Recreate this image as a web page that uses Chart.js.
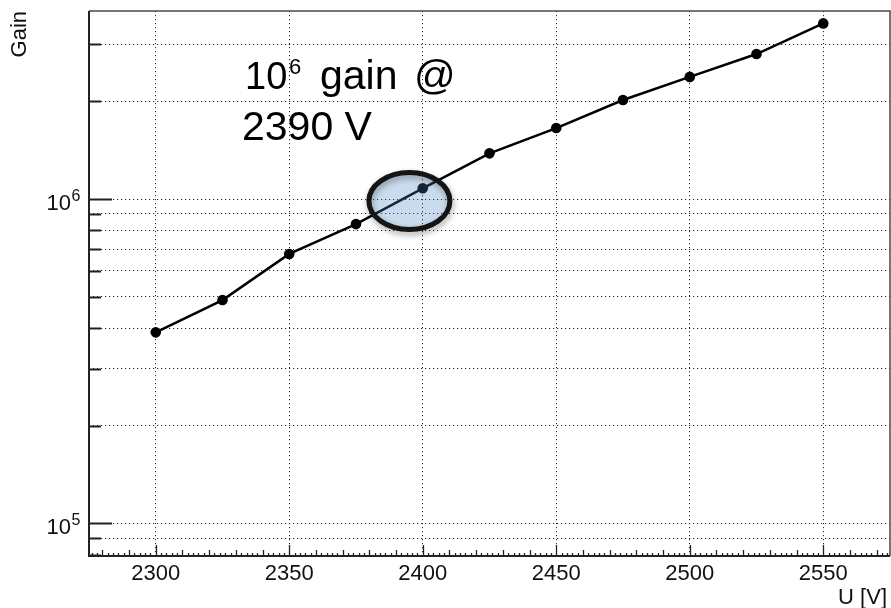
<!DOCTYPE html>
<html>
<head>
<meta charset="utf-8">
<title>Gain vs. U</title>
<script src="https://cdn.jsdelivr.net/npm/chart.js@4.4.0/dist/chart.umd.min.js"></script>
<style>
  html, body { margin: 0; padding: 0; background: #fff; }
  #wrap { width: 891px; height: 608px; position: relative; }
  canvas { display: block; }
</style>
</head>
<body>
<div id="wrap"><canvas id="gainChart" width="891" height="608"></canvas></div>
<script>
// Measured gain versus supply voltage
const voltages = [2300, 2325, 2350, 2375, 2400, 2425, 2450, 2475, 2500, 2525, 2550];
const gains = [3.88e5, 4.88e5, 6.77e5, 8.37e5, 1.079e6, 1.383e6, 1.655e6, 2.02e6, 2.38e6, 2.80e6, 3.48e6];

// Axis layout
const xTickValues = [2300, 2350, 2400, 2450, 2500, 2550];
const yGridValues = [9e4, 1e5, 2e5, 3e5, 4e5, 5e5, 6e5, 7e5, 8e5, 9e5, 1e6, 2e6, 3e6];
const yTickValues = [8e4, 9e4, 1e5, 2e5, 3e5, 4e5, 5e5, 6e5, 7e5, 8e5, 9e5, 1e6, 2e6, 3e6];
const yLabelExponents = [5, 6];
const xRange = [2275, 2575];
const yRange = [7.93e4, 3.8e6];

// Working point marked on the curve
const workingPoint = { voltage: 2395, gain: 0.986e6 };
const noteLines = { base: '10', exponent: '6', rest: 'gain', at: '@', second: '2390 V' };

const FONT = '"Liberation Sans", Arial, Helvetica, sans-serif';

const framePlugin = {
  id: 'frame',
  afterDatasetsDraw(chart) {
    const { ctx, chartArea: a, scales: { x, y } } = chart;
    ctx.save();
    // frame
    ctx.strokeStyle = '#4a4a4a';
    ctx.lineWidth = 1.5;
    ctx.beginPath();
    ctx.moveTo(a.left, a.top); ctx.lineTo(a.right, a.top); ctx.lineTo(a.right, a.bottom);
    ctx.stroke();
    ctx.strokeStyle = '#222';
    ctx.lineWidth = 2;
    ctx.beginPath();
    ctx.moveTo(a.left, a.top); ctx.lineTo(a.left, a.bottom); ctx.lineTo(a.right, a.bottom);
    ctx.stroke();

    // x ticks pointing inward: 50 V, 10 V and 2 V
    ctx.lineWidth = 1.3;
    ctx.beginPath();
    for (let v = Math.ceil(xRange[0] / 2) * 2; v <= xRange[1]; v += 2) {
      const px = Math.round(x.getPixelForValue(v)) + 0.5;
      const len = v % 50 === 0 ? 11 : (v % 10 === 0 ? 6 : 3);
      ctx.moveTo(px, a.bottom);
      ctx.lineTo(px, a.bottom - len);
    }
    ctx.stroke();

    // y ticks pointing inward
    ctx.lineWidth = 2;
    ctx.beginPath();
    yTickValues.forEach(v => {
      const py = Math.round(y.getPixelForValue(v)) + 0.5;
      const isDecade = Math.abs(Math.log10(v) - Math.round(Math.log10(v))) < 1e-9;
      ctx.moveTo(a.left, py);
      ctx.lineTo(a.left + (isDecade ? 23 : 12), py);
    });
    ctx.stroke();

    // x labels
    ctx.fillStyle = '#111';
    ctx.font = '22px ' + FONT;
    ctx.textAlign = 'center';
    ctx.textBaseline = 'alphabetic';
    xTickValues.forEach(v => ctx.fillText(String(v), x.getPixelForValue(v), 580));

    // y labels: 10^n
    yLabelExponents.forEach(n => {
      const py = y.getPixelForValue(Math.pow(10, n));
      ctx.font = '22px ' + FONT;
      ctx.textAlign = 'right';
      ctx.fillText('10', 71, py + 11);
      ctx.font = '16px ' + FONT;
      ctx.textAlign = 'left';
      ctx.fillText(String(n), 71.5, py + 2);
    });

    // axis titles
    ctx.font = '22px ' + FONT;
    ctx.textAlign = 'right';
    ctx.fillText('U [V]', 887, 604);
    ctx.save();
    ctx.translate(26, 11);
    ctx.rotate(-Math.PI / 2);
    ctx.textAlign = 'right';
    ctx.fillText('Gain', 0, 0);
    ctx.restore();

    // highlighted working point
    const cx = x.getPixelForValue(workingPoint.voltage);
    const cy = y.getPixelForValue(workingPoint.gain);
    ctx.beginPath();
    ctx.ellipse(cx, cy, 40.5, 28.5, 0, 0, Math.PI * 2);
    ctx.fillStyle = 'rgba(69,131,190,0.29)';
    ctx.fill();
    ctx.save();
    ctx.shadowColor = 'rgba(0,0,0,0.35)';
    ctx.shadowBlur = 6;
    ctx.shadowOffsetX = 1;
    ctx.shadowOffsetY = 3;
    ctx.lineWidth = 5;
    ctx.strokeStyle = '#141414';
    ctx.stroke();
    ctx.restore();

    // note
    ctx.fillStyle = '#000';
    ctx.textAlign = 'left';
    ctx.font = '38px ' + FONT;
    ctx.fillText(noteLines.base, 245, 89);
    ctx.font = '22px ' + FONT;
    ctx.fillText(noteLines.exponent, 289, 73.5);
    ctx.font = '41px ' + FONT;
    ctx.fillText(noteLines.rest, 320, 89);
    ctx.fillText(noteLines.at, 414, 89);
    ctx.fillText(noteLines.second, 242, 140);
    ctx.restore();
  }
};

const dottedGrid = {
  drawTicks: false,
  color: '#2a2a2a',
  lineWidth: 1
};

new Chart(document.getElementById('gainChart'), {
  type: 'scatter',
  data: {
    datasets: [{
      data: voltages.map((v, i) => ({ x: v, y: gains[i] })),
      showLine: true,
      borderColor: '#000',
      backgroundColor: '#000',
      borderWidth: 2.5,
      pointRadius: 5.3,
      pointBorderWidth: 0,
      tension: 0
    }]
  },
  options: {
    responsive: false,
    animation: false,
    devicePixelRatio: 1,
    layout: { autoPadding: false, padding: { top: 11, right: 1, left: 0, bottom: 0 } },
    plugins: { legend: { display: false }, tooltip: { enabled: false } },
    scales: {
      x: {
        type: 'linear',
        min: xRange[0],
        max: xRange[1],
        bounds: 'data',
        afterBuildTicks: s => { s.ticks = xTickValues.map(v => ({ value: v })); },
        afterFit: s => { s.height = 52; },
        ticks: { display: false },
        grid: dottedGrid,
        border: { display: false, dash: [1.2, 2.8] }
      },
      y: {
        type: 'logarithmic',
        min: yRange[0],
        max: yRange[1],
        bounds: 'data',
        afterBuildTicks: s => { s.ticks = yGridValues.map(v => ({ value: v })); },
        afterFit: s => { s.width = 89; },
        ticks: { display: false },
        grid: dottedGrid,
        border: { display: false, dash: [1.2, 2.8] }
      }
    }
  },
  plugins: [framePlugin]
});
</script>
</body>
</html>
